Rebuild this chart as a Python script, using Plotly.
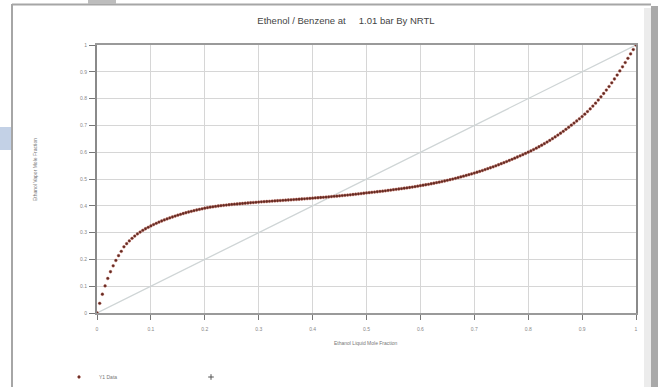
import plotly.graph_objects as go

# ---- data ----
x_liquid = [
    0.000, 0.005, 0.010, 0.015, 0.020, 0.025, 0.030, 0.035, 0.040, 0.045,
    0.050, 0.055, 0.060, 0.065, 0.070, 0.075, 0.080, 0.085, 0.090, 0.095,
    0.100, 0.105, 0.110, 0.115, 0.120, 0.125, 0.130, 0.135, 0.140, 0.145,
    0.150, 0.155, 0.160, 0.165, 0.170, 0.175, 0.180, 0.185, 0.190, 0.195,
    0.200, 0.205, 0.210, 0.215, 0.220, 0.225, 0.230, 0.235, 0.240, 0.245,
    0.250, 0.255, 0.260, 0.265, 0.270, 0.275, 0.280, 0.285, 0.290, 0.295,
    0.300, 0.305, 0.310, 0.315, 0.320, 0.325, 0.330, 0.335, 0.340, 0.345,
    0.350, 0.355, 0.360, 0.365, 0.370, 0.375, 0.380, 0.385, 0.390, 0.395,
    0.400, 0.405, 0.410, 0.415, 0.420, 0.425, 0.430, 0.435, 0.440, 0.445,
    0.450, 0.455, 0.460, 0.465, 0.470, 0.475, 0.480, 0.485, 0.490, 0.495,
    0.500, 0.505, 0.510, 0.515, 0.520, 0.525, 0.530, 0.535, 0.540, 0.545,
    0.550, 0.555, 0.560, 0.565, 0.570, 0.575, 0.580, 0.585, 0.590, 0.595,
    0.600, 0.605, 0.610, 0.615, 0.620, 0.625, 0.630, 0.635, 0.640, 0.645,
    0.650, 0.655, 0.660, 0.665, 0.670, 0.675, 0.680, 0.685, 0.690, 0.695,
    0.700, 0.705, 0.710, 0.715, 0.720, 0.725, 0.730, 0.735, 0.740, 0.745,
    0.750, 0.755, 0.760, 0.765, 0.770, 0.775, 0.780, 0.785, 0.790, 0.795,
    0.800, 0.805, 0.810, 0.815, 0.820, 0.825, 0.830, 0.835, 0.840, 0.845,
    0.850, 0.855, 0.860, 0.865, 0.870, 0.875, 0.880, 0.885, 0.890, 0.895,
    0.900, 0.905, 0.910, 0.915, 0.920, 0.925, 0.930, 0.935, 0.940, 0.945,
    0.950, 0.955, 0.960, 0.965, 0.970, 0.975, 0.980, 0.985, 0.990, 0.995,
    1.000,
]
y_vapor = [
    0.0000, 0.0360, 0.0700, 0.1010, 0.1290, 0.1540, 0.1760, 0.1960, 0.2140, 0.2300,
    0.2470, 0.2585, 0.2690, 0.2785, 0.2871, 0.2949, 0.3020, 0.3085, 0.3144, 0.3198,
    0.3250, 0.3300, 0.3347, 0.3391, 0.3433, 0.3473, 0.3511, 0.3547, 0.3582, 0.3616,
    0.3650, 0.3682, 0.3712, 0.3741, 0.3768, 0.3794, 0.3819, 0.3843, 0.3866, 0.3888,
    0.3910, 0.3929, 0.3947, 0.3963, 0.3978, 0.3992, 0.4005, 0.4017, 0.4028, 0.4039,
    0.4050, 0.4059, 0.4068, 0.4077, 0.4086, 0.4095, 0.4104, 0.4113, 0.4122, 0.4131,
    0.4140, 0.4147, 0.4154, 0.4161, 0.4168, 0.4175, 0.4182, 0.4189, 0.4196, 0.4203,
    0.4210, 0.4217, 0.4224, 0.4231, 0.4238, 0.4245, 0.4253, 0.4260, 0.4268, 0.4276,
    0.4285, 0.4293, 0.4301, 0.4309, 0.4317, 0.4325, 0.4334, 0.4343, 0.4352, 0.4361,
    0.4370, 0.4380, 0.4390, 0.4400, 0.4410, 0.4421, 0.4432, 0.4444, 0.4456, 0.4468,
    0.4480, 0.4491, 0.4502, 0.4513, 0.4524, 0.4535, 0.4547, 0.4560, 0.4573, 0.4586,
    0.4600, 0.4613, 0.4626, 0.4640, 0.4654, 0.4668, 0.4683, 0.4698, 0.4714, 0.4732,
    0.4750, 0.4767, 0.4785, 0.4803, 0.4822, 0.4842, 0.4862, 0.4883, 0.4904, 0.4926,
    0.4950, 0.4974, 0.4999, 0.5025, 0.5051, 0.5078, 0.5105, 0.5133, 0.5161, 0.5190,
    0.5220, 0.5251, 0.5283, 0.5316, 0.5350, 0.5385, 0.5420, 0.5456, 0.5493, 0.5531,
    0.5570, 0.5610, 0.5651, 0.5692, 0.5734, 0.5777, 0.5820, 0.5864, 0.5909, 0.5954,
    0.6000, 0.6048, 0.6098, 0.6150, 0.6204, 0.6260, 0.6318, 0.6378, 0.6440, 0.6504,
    0.6570, 0.6638, 0.6708, 0.6780, 0.6854, 0.6930, 0.7007, 0.7085, 0.7165, 0.7247,
    0.7330, 0.7420, 0.7515, 0.7615, 0.7720, 0.7830, 0.7945, 0.8065, 0.8190, 0.8318,
    0.8450, 0.8588, 0.8731, 0.8879, 0.9031, 0.9186, 0.9344, 0.9504, 0.9666, 0.9831,
    1.0000,
]
diag_x = [0, 1]
diag_y = [0, 1]

tick_vals = [0, 0.1, 0.2, 0.3, 0.4, 0.5, 0.6, 0.7, 0.8, 0.9, 1]
tick_text = ["0", "0.1", "0.2", "0.3", "0.4", "0.5", "0.6", "0.7", "0.8", "0.9", "1"]

title_text = "Ethenol / Benzene at\u00a0\u00a0\u00a0\u00a0 1.01 bar By NRTL"
x_title = "Ethanol Liquid Mole Fraction"
y_title = "Ethanol Vapor Mole Fraction"
series_name = "Y1 Data"

# ---- figure geometry ----
W, H = 658, 387
L, R, T, B = 97, 22, 45, 74
PW, PH = W - L - R, H - T - B


def px_x(p):
    return (p - L) / PW


def px_y(p):
    return (H - B - p) / PH


FONT = "Liberation Sans, Arial, sans-serif"

fig = go.Figure()

fig.add_trace(go.Scatter(
    x=diag_x, y=diag_y, mode="lines",
    line=dict(color="#cfd5d6", width=1.3),
    showlegend=False, hoverinfo="skip",
))

fig.add_trace(go.Scatter(
    x=x_liquid, y=y_vapor, mode="markers", name=series_name,
    marker=dict(symbol="circle", size=2.8, color="#5e2b24",
                line=dict(color="#b04a3a", width=0.4)),
))

# second (unlabelled) legend entry
fig.add_trace(go.Scatter(
    x=[None], y=[None], mode="markers", name="\u00a0",
    marker=dict(symbol="cross-thin", size=4, color="#555",
                line=dict(color="#555", width=1)),
))

axis_common = dict(
    range=[0, 1], tickmode="array", tickvals=tick_vals, ticktext=tick_text,
    showgrid=True, gridcolor="#d6d6d6", gridwidth=1,
    zeroline=False, showline=True, mirror=True,
    ticks="outside", tickcolor="#777", tickwidth=1,
    tickfont=dict(family=FONT, size=5, color="#888"),
)

fig.update_xaxes(**axis_common, linecolor="#9a9a9a", linewidth=2,
                 ticklen=5, ticklabelstandoff=5)
fig.update_yaxes(**axis_common, linecolor="#8a8a8a", linewidth=2,
                 ticklen=6, ticklabelstandoff=1)

shapes = [
    # page frame
    dict(type="line", xref="paper", yref="paper",
         x0=px_x(12), x1=px_x(12), y0=px_y(4), y1=px_y(400),
         line=dict(color="#a6a6a6", width=2)),
    dict(type="line", xref="paper", yref="paper",
         x0=px_x(12), x1=px_x(651), y0=px_y(4.5), y1=px_y(4.5),
         line=dict(color="#a6a6a6", width=2)),
    # right drop shadow
    dict(type="rect", xref="paper", yref="paper",
         x0=px_x(644), x1=px_x(651), y0=px_y(8), y1=px_y(400),
         fillcolor="#ececec", line=dict(width=0), layer="below"),
    dict(type="rect", xref="paper", yref="paper",
         x0=px_x(651), x1=px_x(659), y0=px_y(6), y1=px_y(400),
         fillcolor="#a9a9a9", line=dict(width=0)),
    # top-left grey tab and left blue tab of the page photo
    dict(type="rect", xref="paper", yref="paper",
         x0=px_x(88), x1=px_x(116), y0=px_y(-1), y1=px_y(4),
         fillcolor="#bdbdbd", line=dict(width=0)),
    dict(type="rect", xref="paper", yref="paper",
         x0=px_x(-1), x1=px_x(11), y0=px_y(127), y1=px_y(150),
         fillcolor="#c3d1e6", line=dict(width=0)),
]

annotations = [
    dict(text=y_title, xref="paper", yref="paper", x=px_x(35), y=px_y(170),
         showarrow=False, textangle=-90, xanchor="center", yanchor="middle",
         font=dict(family=FONT, size=5, color="#777")),
    dict(text=x_title, xref="paper", yref="paper", x=px_x(366), y=px_y(343),
         showarrow=False, xanchor="center", yanchor="middle",
         font=dict(family=FONT, size=5, color="#777")),
]

fig.update_layout(
    width=W, height=H,
    margin=dict(l=L, r=R, t=T, b=B, pad=0, autoexpand=False),
    paper_bgcolor="white", plot_bgcolor="white",
    title=dict(text=title_text, x=346 / W, xanchor="center",
               y=1 - 21 / H, yanchor="middle",
               font=dict(family=FONT, size=9.5, color="#444")),
    legend=dict(orientation="h", x=px_x(59), xanchor="left",
                y=px_y(377), yanchor="middle",
                entrywidth=87, entrywidthmode="pixels", itemwidth=30,
                font=dict(family=FONT, size=5, color="#777"),
                bgcolor="rgba(0,0,0,0)"),
    shapes=shapes, annotations=annotations,
)

fig.write_html("out.html", config={"displayModeBar": False},
               post_script="document.body.style.margin='0';")
